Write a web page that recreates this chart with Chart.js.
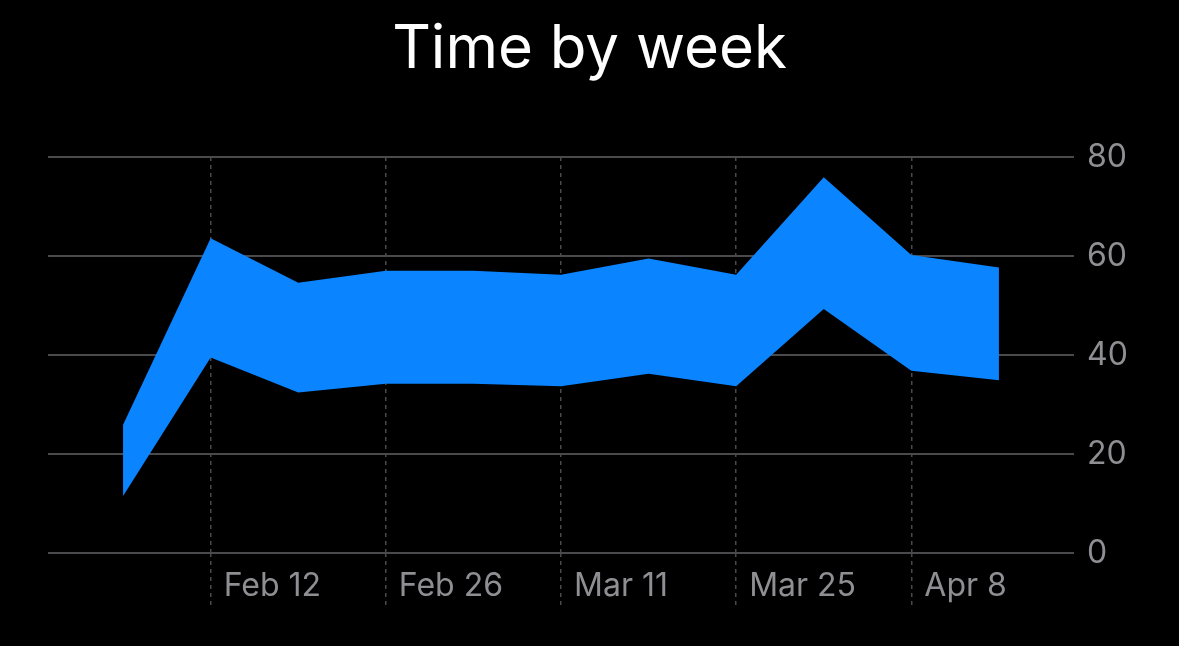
<!DOCTYPE html>
<html>
<head>
<meta charset="utf-8">
<title>Time by week</title>
<script src="https://cdn.jsdelivr.net/npm/chart.js@4.4.1/dist/chart.umd.min.js"></script>
<style>
  html, body { margin: 0; padding: 0; background: #000; }
  #wrap { width: 1179px; height: 646px; }
</style>
</head>
<body>
<div id="wrap"><canvas id="weekChart" width="1179" height="646"></canvas></div>
<script>
// Weekly time range (minutes)
const weeks = ['Feb 5', 'Feb 12', 'Feb 19', 'Feb 26', 'Mar 4', 'Mar 11', 'Mar 18', 'Mar 25', 'Apr 1', 'Apr 8', 'Apr 15'];
const weekDays = [0, 7, 14, 21, 28, 35, 42, 49, 56, 63, 70]; // days since Feb 5
const upperValues = [25.9, 63.6, 54.6, 57.0, 57.0, 56.2, 59.5, 56.2, 75.9, 60.2, 57.7];
const lowerValues = [11.5, 39.5, 32.4, 34.2, 34.2, 33.7, 36.2, 33.7, 49.3, 36.8, 34.9];

// x axis ticks
const tickDays = [7, 21, 35, 49, 63];
const tickLabels = ['Feb 12', 'Feb 26', 'Mar 11', 'Mar 25', 'Apr 8'];
const yTicks = [0, 20, 40, 60, 80];

const blue = '#0A84FF';
const gridColor = '#4a4a4c';
const labelColor = '#8e8e93';

function toPoints(values) {
    return values.map((v, i) => ({ x: weekDays[i], y: v }));
}

const ctx = document.getElementById('weekChart');

new Chart(ctx, {
    type: 'line',
    data: {
        datasets: [{
            label: 'Low',
            data: toPoints(lowerValues),
            borderWidth: 0,
            pointRadius: 0,
            fill: false,
            tension: 0
        }, {
            label: 'High',
            data: toPoints(upperValues),
            borderWidth: 0,
            pointRadius: 0,
            backgroundColor: blue,
            fill: '-1',
            tension: 0
        }]
    },
    options: {
        responsive: false,
        animation: false,
        layout: { padding: 0 },
        plugins: {
            legend: { display: false },
            tooltip: { enabled: false },
            title: {
                display: true,
                text: 'Time by week',
                color: '#ffffff',
                font: { family: 'Inter', size: 60, weight: '400' },
                padding: { top: 14, bottom: 71 }
            }
        },
        scales: {
            x: {
                type: 'linear',
                min: -6,
                max: 76,
                afterBuildTicks: (scale) => {
                    scale.ticks = tickDays.map(v => ({ value: v }));
                },
                afterFit: (scale) => { scale.height = 93; },
                grid: {
                    color: gridColor,
                    lineWidth: 1.5,
                    drawTicks: true,
                    tickLength: 52,
                    tickColor: gridColor,
                    tickWidth: 1.5,
                    tickBorderDash: [4, 4]
                },
                border: { display: false, dash: [4, 4] },
                ticks: {
                    color: labelColor,
                    font: { family: 'Inter', size: 32 },
                    align: 'start',
                    labelOffset: 13,
                    padding: -38,
                    maxRotation: 0,
                    autoSkip: false,
                    callback: (value) => {
                        const i = tickDays.indexOf(value);
                        return i >= 0 ? tickLabels[i] : '';
                    }
                }
            },
            // empty left axis, only keeps the plot 48px from the left edge
            yLeft: {
                position: 'left',
                min: 0,
                max: 80,
                afterFit: (scale) => { scale.width = 48; },
                grid: { display: false },
                border: { display: false },
                ticks: { display: false }
            },
            y: {
                position: 'right',
                min: 0,
                max: 80,
                afterBuildTicks: (scale) => {
                    scale.ticks = yTicks.map(v => ({ value: v }));
                },
                afterFit: (scale) => { scale.width = 105; },
                grid: {
                    color: gridColor,
                    lineWidth: 2,
                    drawTicks: false
                },
                border: { display: false },
                ticks: {
                    color: labelColor,
                    font: { family: 'Inter', size: 32 },
                    padding: 13
                }
            }
        }
    }
});
</script>
</body>
</html>
